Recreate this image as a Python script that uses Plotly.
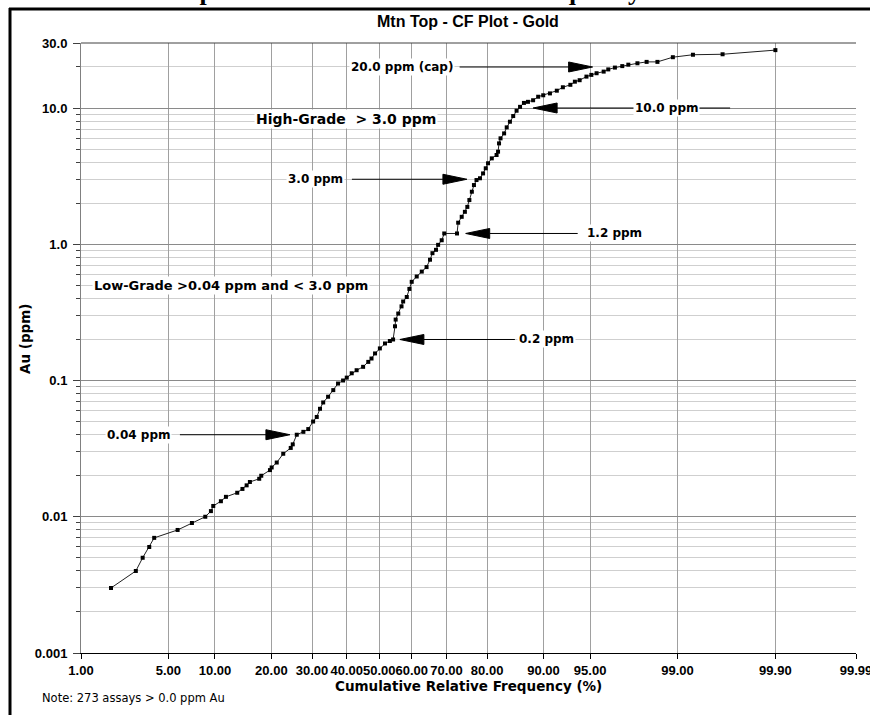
import math
from statistics import NormalDist
import plotly.graph_objects as go

# Cumulative relative frequency (%) and gold grade (ppm) of the Mtn Top assays
cum_freq_pct = [
    1.82, 2.88, 3.25, 3.64, 3.96, 5.79, 7.2, 8.74, 9.46, 9.77,
    10.84, 11.59, 13.4, 14.3, 15.05, 15.65, 17.46, 17.87, 19.7, 20.07,
    21.2, 22.7, 24.5, 25.0, 26.0, 27.7, 29.0, 30.3, 31.3, 32.2,
    33.1, 34.5, 36.0, 37.4, 38.9, 40.0, 41.5, 43.0, 45.0, 46.6,
    47.6, 48.7, 50.2, 51.8, 53.3, 54.3, 54.9, 55.1, 55.9, 56.9,
    57.4, 58.5, 59.3, 60.0, 61.5, 63.0, 64.4, 65.4, 66.1, 67.1,
    67.7, 68.7, 69.4, 72.8, 73.1, 74.0, 74.8, 75.4, 75.9, 76.5,
    77.0, 77.6, 78.4, 79.1, 79.7, 80.2, 81.0, 82.0, 82.3, 82.5,
    82.8, 83.5, 84.0, 84.6, 85.2, 85.8, 86.4, 87.05, 87.7, 88.5,
    89.25, 89.96, 90.85, 91.7, 92.4, 93.2, 93.65, 94.1, 94.7, 95.1,
    95.5, 96.0, 96.3, 96.7, 97.1, 97.4, 97.8, 98.15, 98.5, 98.9,
    99.28, 99.63, 99.90,
]
au_ppm = [
    0.003, 0.004, 0.005, 0.006, 0.007, 0.008, 0.009, 0.010, 0.011, 0.012,
    0.013, 0.014, 0.015, 0.016, 0.017, 0.018, 0.019, 0.020, 0.022, 0.023,
    0.025, 0.029, 0.032, 0.034, 0.040, 0.042, 0.044, 0.050, 0.054, 0.062,
    0.069, 0.076, 0.085, 0.095, 0.100, 0.105, 0.113, 0.119, 0.126, 0.137,
    0.145, 0.158, 0.172, 0.187, 0.195, 0.200, 0.25, 0.28, 0.31, 0.35,
    0.38, 0.41, 0.47, 0.53, 0.58, 0.63, 0.68, 0.77, 0.86, 0.91,
    0.99, 1.07, 1.20, 1.20, 1.44, 1.59, 1.73, 1.88, 2.11, 2.43,
    2.72, 2.96, 3.05, 3.31, 3.61, 3.93, 4.27, 4.52, 4.78, 5.50,
    5.99, 6.51, 7.21, 7.93, 8.73, 9.55, 10.2, 10.9, 11.1, 11.4,
    12.1, 12.4, 12.8, 13.4, 14.2, 14.8, 15.6, 16.0, 17.0, 17.5,
    18.0, 18.5, 19.2, 19.8, 20.3, 20.8, 21.3, 21.8, 21.8, 23.6,
    24.6, 24.8, 26.6,
]

# Probability-axis ticks (%) and log-axis ticks (ppm)
x_ticks_pct = [1, 5, 10, 20, 30, 40, 50, 60, 70, 80, 90, 95, 99, 99.9, 99.99]
x_tick_text = ["1.00", "5.00", "10.00", "20.00", "30.00", "40.00", "50.00", "60.00",
               "70.00", "80.00", "90.00", "95.00", "99.00", "99.90", "99.99"]
y_ticks = [0.001, 0.01, 0.1, 1, 10, 30]
y_tick_text = ["0.001", "0.01", "0.1", "1.0", "10.0", "30.0"]
y_minor = [m * 10.0 ** e for e in range(-3, 1) for m in range(2, 10)] + [20]

# Grade thresholds marked with arrows
cutoff_labels = ["20.0 ppm (cap)", "10.0 ppm", "3.0 ppm", "1.2 ppm", "0.2 ppm", "0.04 ppm"]
cutoff_ppm = [20.0, 10.0, 3.0, 1.2, 0.2, 0.04]

ND = NormalDist()


def prob(p):
    """Normal-probability scale: cumulative % -> standard normal quantile."""
    return ND.inv_cdf(p / 100.0)


# Figure geometry (pixels)
W, H = 870, 715
L, R, T, B = 81, 14, 43, 62
PW, PH = W - L - R, H - T - B


def px(x):
    return (x - L) / PW


def py(y):
    return (H - B - y) / PH


# arrow callouts: tip position (%), direction, line extent and label offset (pixels)
callout_style = [
    dict(tip=95.2, dir=+1, line=(-133, -24), tx=-138, anchor="right"),
    dict(tip=88.5, dir=-1, line=(24, 197), tx=133, anchor="center"),
    dict(tip=75.3, dir=+1, line=(-115, -24), tx=-122, anchor="right"),
    dict(tip=75.0, dir=-1, line=(24, 112), tx=119, anchor="left"),
    dict(tip=56.4, dir=-1, line=(24, 115), tx=117, anchor="left"),
    dict(tip=24.3, dir=+1, line=(-110, -22), tx=-118, anchor="right"),
]

BOLD_V = dict(family="DejaVu Sans", size=12, color="black", weight="bold")

fig = go.Figure()
fig.add_trace(go.Scatter(
    x=[prob(p) for p in cum_freq_pct], y=au_ppm, mode="lines+markers",
    line=dict(color="#202020", width=1),
    marker=dict(symbol="square", size=4, color="black"),
    showlegend=False, hoverinfo="skip",
))

shapes = []
annotations = []

for label, grade, st in zip(cutoff_labels, cutoff_ppm, callout_style):
    xa = prob(st["tip"])
    d = st["dir"]
    head = 24
    shapes.append(dict(
        type="path", xref="x", yref="y", xsizemode="pixel", ysizemode="pixel",
        xanchor=xa, yanchor=grade,
        path=f"M0,0 L{-d * head},5 L{-d * head},-5 Z",
        fillcolor="black", line=dict(color="black", width=1), layer="above"))
    shapes.append(dict(
        type="line", xref="x", yref="y", xsizemode="pixel", xanchor=xa,
        x0=st["line"][0], x1=st["line"][1], y0=grade, y1=grade,
        line=dict(color="black", width=1), layer="above"))
    annotations.append(dict(
        x=xa, y=math.log10(grade), xref="x", yref="y", text=label, showarrow=False,
        xanchor=st["anchor"], yanchor="middle", xshift=st["tx"],
        font=BOLD_V, bgcolor="white", borderpad=1))

# grade-domain notes
annotations.append(dict(x=px(438), y=py(119), xref="paper", yref="paper",
                        text="High-Grade  &gt; 3.0 ppm", showarrow=False,
                        xanchor="right", yanchor="middle",
                        font=dict(family="DejaVu Sans", size=14, color="black", weight="bold"),
                        bgcolor="white"))
annotations.append(dict(x=px(92), y=py(285), xref="paper", yref="paper",
                        text="Low-Grade &gt;0.04 ppm and &lt; 3.0 ppm", showarrow=False,
                        xanchor="left", yanchor="middle",
                        font=dict(family="DejaVu Sans", size=13, color="black", weight="bold"),
                        bgcolor="white"))

# titles and notes
annotations.append(dict(x=px(468), y=py(22), xref="paper", yref="paper",
                        text="Mtn Top - CF Plot - Gold", showarrow=False,
                        xanchor="center", yanchor="middle",
                        font=dict(family="Liberation Sans", size=16, color="black", weight="bold")))
annotations.append(dict(x=px(468), y=py(686), xref="paper", yref="paper",
                        text="Cumulative Relative Frequency (%)", showarrow=False,
                        xanchor="center", yanchor="middle",
                        font=dict(family="DejaVu Sans", size=13.5, color="black", weight="bold")))
annotations.append(dict(x=px(25), y=py(338), xref="paper", yref="paper",
                        text="Au (ppm)", showarrow=False, textangle=-90,
                        xanchor="center", yanchor="middle",
                        font=dict(family="DejaVu Sans", size=13.5, color="black", weight="bold")))
annotations.append(dict(x=px(40), y=py(698), xref="paper", yref="paper",
                        text="Note: 273 assays &gt; 0.0 ppm Au", showarrow=False,
                        xanchor="left", yanchor="middle",
                        font=dict(family="DejaVu Sans", size=11.5, color="black")))
# report heading running off the top of the page
annotations.append(dict(x=px(145), y=py(6.5), xref="paper", yref="paper",
                        text="Composite Au Grade Cumulative Frequency", showarrow=False,
                        xanchor="left", yanchor="bottom", borderpad=0,
                        font=dict(family="Liberation Serif", size=26, color="black", weight="bold")))

# outer frame (top and left edges) and plot-area top edge
shapes.append(dict(type="line", xref="paper", yref="paper",
                   x0=px(9), x1=px(880), y0=py(9), y1=py(9),
                   line=dict(color="black", width=3)))
shapes.append(dict(type="line", xref="paper", yref="paper",
                   x0=px(10), x1=px(10), y0=py(8), y1=py(720),
                   line=dict(color="black", width=3)))
shapes.append(dict(type="line", xref="paper", yref="paper", x0=0, x1=1, y0=1, y1=1,
                   line=dict(color="#404040", width=1)))

fig.update_layout(
    width=W, height=H,
    margin=dict(l=L, r=R, t=T, b=B, autoexpand=False),
    paper_bgcolor="white", plot_bgcolor="white",
    shapes=shapes, annotations=annotations,
    xaxis=dict(
        range=[prob(1), prob(99.99)], automargin=False,
        tickmode="array", tickvals=[prob(p) for p in x_ticks_pct], ticktext=x_tick_text,
        tickangle=0, ticklabeloverflow="allow",
        showgrid=True, gridcolor="#a0a0a0", gridwidth=1, zeroline=False,
        showline=True, linecolor="black", linewidth=1,
        ticks="outside", ticklen=5, tickcolor="black",
        tickfont=dict(family="Liberation Sans", size=13, color="black", weight="bold"),
    ),
    yaxis=dict(
        type="log", range=[-3, math.log10(30)], automargin=False,
        tickmode="array", tickvals=y_ticks, ticktext=y_tick_text,
        showgrid=True, gridcolor="#8a8a8a", gridwidth=1, zeroline=False,
        showline=True, linecolor="#808080", linewidth=1,
        ticks="outside", ticklen=7, tickcolor="#404040", ticklabelstandoff=3,
        tickfont=dict(family="Liberation Sans", size=13, color="black", weight="bold"),
        minor=dict(tickmode="array", tickvals=y_minor, showgrid=True,
                   gridcolor="#cfcfcf", gridwidth=1, ticks="outside", ticklen=4,
                   tickcolor="#404040"),
    ),
)

fig.write_html("out.html")
